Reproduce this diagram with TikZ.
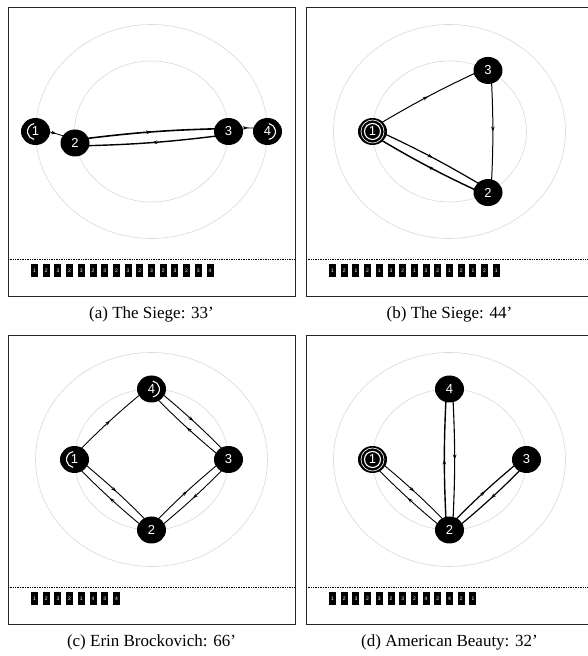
\documentclass[tikz,border=0pt]{standalone}
\usepackage{fontspec}
\setmainfont{Liberation Serif}
\newfontfamily\statefont{Liberation Sans}
\usetikzlibrary{arrows.meta,calc,backgrounds,decorations.markings,shapes.geometric}

% panel frame, strip line, caption and the two rings
\newcommand{\movieframe}[2]{%
  \draw[frame] (0,0) rectangle (287,-289);
  \draw[strip] (0,-251.5) -- (287,-251.5);
  \node[caption] (#1cap) at (143.5,-306) {#2};
  \begin{scope}[on background layer]
    \draw[orbit] (143.5,-123.5) ellipse (116 and 107);
    \draw[orbit] (143.5,-123.5) ellipse (77 and 70.5);
  \end{scope}}
% scene sequence under the strip line
\newcommand{\seqstrip}[2]{%
  \foreach \s [count=\k] in {#2} {
    \node[seqbox] (#1s\k) at ({26.5+11.7*(\k-1)},-262.5) {\s};
  }}
% transition from #2 to #3, drawn left of travel
\newcommand{\trans}[3]{%
  \draw[trans, line width=#1] ($(#2)!3pt!90:(#3)$) to[bend left=3] ($(#3)!3pt!-90:(#2)$);}
% first / last scene cues
\newcommand{\firstcue}[1]{\draw[cue] ([shift={(100:8)}]#1.center) arc (100:260:8);}
\newcommand{\lastcue}[1]{\draw[cue] ([shift={(-80:8)}]#1.center) arc (-80:80:8);}
\newcommand{\loopcue}[1]{\draw[cue] (#1.center) circle (8); \draw[cue, line width=0.6pt] (#1.center) circle (11.5);}

\begin{document}
\begin{tikzpicture}[x=1pt, y=1pt,
    state/.style={ellipse, fill=black, text=white, inner sep=0pt, minimum width=29pt, minimum height=27pt, font=\statefont\fontsize{13}{13}\selectfont},
    seqbox/.style={fill=black, text=white, inner sep=0pt, minimum width=7pt, minimum height=13pt, font=\statefont\fontsize{5}{5}\selectfont},
    frame/.style={draw=black!85, line width=1pt},
    strip/.style={densely dotted, line width=0.7pt},
    orbit/.style={draw=black!15, line width=0.6pt},
    trans/.style={postaction=decorate, decoration={markings, mark=at position 0.5 with {\arrow{Stealth[length=5pt, width=3.6pt]}}}},
    cue/.style={white, line width=1.1pt},
    caption/.style={font=\fontsize{17}{20}\selectfont}
]
\useasboundingbox (0,0) rectangle (588,656);
\clip (0,0) rectangle (588,656);

% (a)
\begin{scope}[shift={(8,648)}]
\movieframe{a}{(a) The Siege: 33'}
\seqstrip{a}{1,2,3,2,3,2,3,2,3,2,3,2,3,2,3,4}
\begin{scope}[shift={(143.5,-123.5)}]
\node[state] (a1) at (180:116 and 107) {1};
\node[state] (a2) at (-76.5,-11.5) {2};
\node[state] (a3) at (0:77 and 70.5) {3};
\node[state] (a4) at (0:116 and 107) {4};
\firstcue{a1}
\lastcue{a4}
\begin{scope}[on background layer]
\trans{0.8pt}{a1}{a2}
\trans{1.6pt}{a2}{a3}
\trans{1.4pt}{a3}{a2}
\trans{0.8pt}{a3}{a4}
\end{scope}
\end{scope}
\end{scope}

% (b)
\begin{scope}[shift={(306,648)}]
\movieframe{b}{(b) The Siege: 44'}
\seqstrip{b}{1,2,1,2,1,3,2,1,3,2,1,2,1,2,1}
\begin{scope}[shift={(143.5,-123.5)}]
\node[state] (b1) at (180:77 and 70.5) {1};
\node[state] (b2) at (-60:77 and 70.5) {2};
\node[state] (b3) at (60:77 and 70.5) {3};
\loopcue{b1}
\begin{scope}[on background layer]
\trans{1.2pt}{b1}{b2}
\trans{1.45pt}{b2}{b1}
\trans{1pt}{b1}{b3}
\trans{1pt}{b3}{b2}
\end{scope}
\end{scope}
\end{scope}

% (c)
\begin{scope}[shift={(8,320)}]
\movieframe{c}{(c) Erin Brockovich: 66'}
\seqstrip{c}{1,2,3,2,1,4,3,4}
\begin{scope}[shift={(143.5,-123.5)}]
\node[state] (c1) at (180:77 and 70.5) {1};
\node[state] (c2) at (-90:77 and 70.5) {2};
\node[state] (c3) at (0:77 and 70.5) {3};
\node[state] (c4) at (90:77 and 70.5) {4};
\firstcue{c1}
\lastcue{c4}
\begin{scope}[on background layer]
\trans{0.9pt}{c1}{c2}
\trans{0.9pt}{c2}{c1}
\trans{0.9pt}{c2}{c3}
\trans{0.9pt}{c3}{c2}
\trans{0.9pt}{c1}{c4}
\trans{0.9pt}{c4}{c3}
\trans{0.9pt}{c3}{c4}
\end{scope}
\end{scope}
\end{scope}

% (d)
\begin{scope}[shift={(306,320)}]
\movieframe{d}{(d) American Beauty: 32'}
\seqstrip{d}{1,2,3,2,3,2,3,2,4,2,4,2,1}
\begin{scope}[shift={(143.5,-123.5)}]
\node[state] (d1) at (180:77 and 70.5) {1};
\node[state] (d2) at (-90:77 and 70.5) {2};
\node[state] (d3) at (0:77 and 70.5) {3};
\node[state] (d4) at (90:77 and 70.5) {4};
\loopcue{d1}
\begin{scope}[on background layer]
\trans{0.9pt}{d1}{d2}
\trans{0.9pt}{d2}{d1}
\trans{1.2pt}{d2}{d3}
\trans{1.2pt}{d3}{d2}
\trans{1.4pt}{d2}{d4}
\trans{1.1pt}{d4}{d2}
\end{scope}
\end{scope}
\end{scope}

\end{tikzpicture}
\end{document}
